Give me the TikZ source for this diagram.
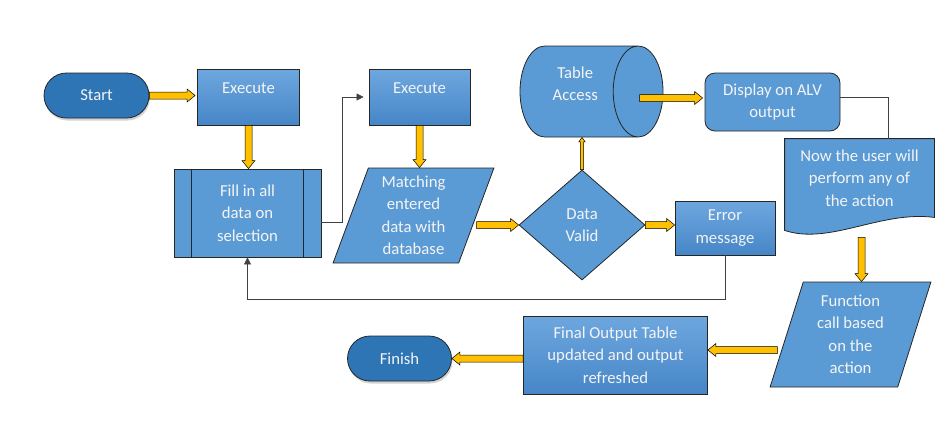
\documentclass[tikz,border=0pt]{standalone}
\usepackage{fontspec}
\setmainfont{Carlito}
\usetikzlibrary{shapes.geometric,shapes.misc,shadows,calc,arrows.meta,backgrounds}

\definecolor{boxblue}{RGB}{91,155,213}
\definecolor{boxtop}{RGB}{110,167,223}
\definecolor{boxbottom}{RGB}{70,134,199}
\definecolor{termblue}{RGB}{46,117,182}
\definecolor{arrowgold}{RGB}{255,192,0}
\definecolor{edgegray}{RGB}{38,38,38}
\definecolor{textwhite}{RGB}{244,244,244}

\tikzset{
  outline/.style={draw=edgegray, line width=0.8pt},
  base/.style={outline, text=textwhite, align=center, inner sep=2pt,
    font=\fontsize{16.7}{22.5}\selectfont},
  flat/.style={base, fill=boxblue},
  shaded/.style={base, top color=boxtop, bottom color=boxbottom},
  terminal/.style={base, rounded rectangle, fill=termblue, draw=black!85,
    drop shadow={shadow xshift=1pt, shadow yshift=-2.5pt, opacity=0.35}},
  slanted/.style={flat, trapezium, trapezium left angle=#1, trapezium right angle=180-#1,
    trapezium stretches=true, inner sep=0pt},
  link/.style={draw=black!75, line width=0.6pt},
  arrowpath/.style n args={3}{draw=black, fill=arrowgold, line width=0.5pt,
    to path={($(\tikztotarget)!#3!(\tikztostart)$) coordinate (ah)
      ($(\tikztostart)!#1!90:(\tikztotarget)$) -- ($(ah)!#1!90:(\tikztotarget)$)
      -- ($(ah)!#2!90:(\tikztotarget)$) -- (\tikztotarget)
      -- ($(ah)!#2!-90:(\tikztotarget)$) -- ($(ah)!#1!-90:(\tikztotarget)$)
      -- ($(\tikztostart)!#1!-90:(\tikztotarget)$) -- cycle}},
  blockarrow/.style={arrowpath={3.5pt}{6.5pt}{8pt}},
  thinarrow/.style={arrowpath={1.6pt}{3.2pt}{4.5pt}}
}

\begin{document}
\begin{tikzpicture}[x=1pt, y=-1pt]
  \useasboundingbox (0,0) rectangle (936,432);

  % top row
  \node[terminal, minimum width=109pt, minimum height=45pt] (start) at (96.5,95.5) {Start};
  \node[shaded, minimum width=102pt, minimum height=56pt, text depth=18pt] (exec1) at (248.5,97) {Execute};
  \node[shaded, minimum width=101pt, minimum height=56pt, text depth=18pt] (exec2) at (419.5,97) {Execute};
  \node[flat, cylinder, shape aspect=0.92, minimum width=91pt, minimum height=143pt, text depth=16pt,
    anchor=shape center] (table) at (591.5,91.5) {Table\\Access};
  \node[flat, rounded corners=10pt, minimum width=135pt, minimum height=58pt] (display) at (772.5,102) {Display on ALV\\output};

  % middle row
  \node[flat, minimum width=147pt, minimum height=88pt] (fillin) at (247.5,213) {Fill in all\\data on\\selection};
  \draw[outline] ([xshift=18pt]fillin.north west) -- ([xshift=18pt]fillin.south west)
    ([xshift=-18pt]fillin.north east) -- ([xshift=-18pt]fillin.south east);
  \node[slanted=72.5, minimum width=161pt, minimum height=95pt] (matching) at (413.5,215.5) {Matching\\entered\\data with\\database};
  \node[flat, diamond, aspect=1.145, minimum width=126pt, minimum height=110pt, inner sep=0pt] (valid) at (582,225) {Data\\Valid};
  \node[shaded, minimum width=100pt, minimum height=54pt] (error) at (725,228) {Error\\message};
  \node[base, draw=none, minimum width=149pt, minimum height=78pt] (userdoc) at (859.5,178) {Now the user will\\perform any of\\the action};
  \begin{scope}[on background layer]
    \draw[outline, fill=boxblue] (userdoc.north west) -- (userdoc.north east) -- (userdoc.south east)
      .. controls ($(userdoc.south east)+(-54,-7)$) and ($(userdoc.south west)+(45,28)$) .. ($(userdoc.south west)+(0,13)$) -- cycle;
  \end{scope}

  % bottom row
  \node[slanted=73.5, minimum width=161pt, minimum height=105pt] (function) at (850.5,334.5) {Function\\call based\\on the\\action};
  \node[shaded, minimum width=184pt, minimum height=78pt] (final) at (615.5,355) {Final Output Table\\updated and output\\refreshed};
  \node[terminal, minimum width=108pt, minimum height=45pt] (finish) at (399.5,358.5) {Finish};

  \coordinate (tableface) at ($(table.shape center)+(48,6.5)$);
  \coordinate (docend) at ($(userdoc.south)+(2,20)$);
  \coordinate (callout) at ($(function.west)+(-9,15.5)$);

  % yellow arrows
  \path[blockarrow] (start.east) to ([xshift=-2pt]start.east -| exec1.west);
  \path[blockarrow] (exec1.south) to (exec1.south |- fillin.north);
  \path[blockarrow] (exec2.south) to (exec2.south |- matching.north);
  \path[blockarrow] (matching.east |- valid.west) to (valid.west);
  \path[blockarrow] (valid.east) to (valid.east -| error.west);
  \path[thinarrow] (valid.north) to (valid.north |- table.south);
  \path[blockarrow] (tableface) to ([xshift=-2pt]tableface -| display.west);
  \path[blockarrow] (docend) to (docend |- function.north);
  \path[blockarrow] (callout) to (callout -| final.east);
  \path[blockarrow] (final.west |- finish.east) to (finish.east);

  % thin links
  \draw[link, -{Triangle[length=7pt,width=7pt]}] ($(fillin.east)+(0,9)$) -- ++(21,0) |- ([xshift=-5pt]exec2.west);
  \draw[link, -{Triangle[length=7pt,width=7pt]}] (error.south) -- ++(0,44) -| (fillin.south);
  \draw[link] ($(display.east)+(0,-5)$) -| ($(userdoc.north)+(28.5,0)$);
\end{tikzpicture}
\end{document}
